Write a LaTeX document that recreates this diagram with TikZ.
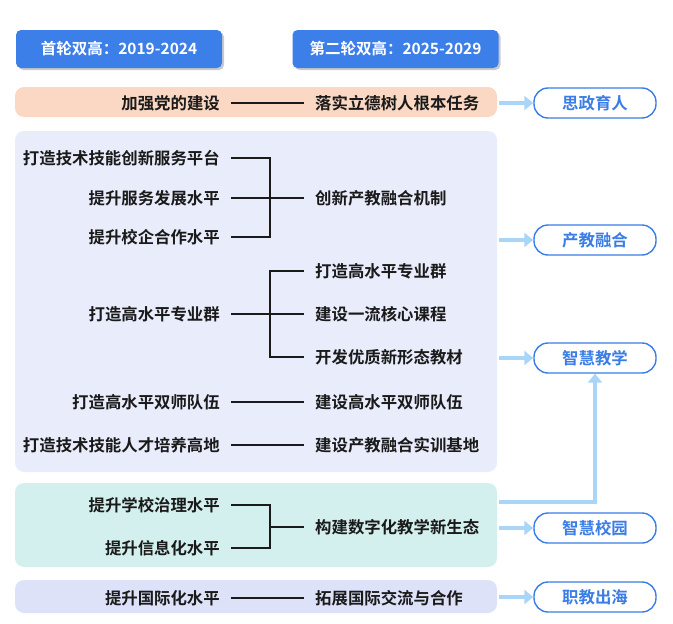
\documentclass[tikz,border=0pt]{standalone}
\usepackage{fontspec}
\setmainfont{Noto Sans CJK SC}[BoldFont={Noto Sans CJK SC Bold}]
\usetikzlibrary{arrows.meta,shadows}
\definecolor{hdrblue}{HTML}{3C7FE9}
\definecolor{pillblue}{HTML}{3A7DE6}
\definecolor{arrblue}{HTML}{A9D5F8}
\definecolor{peach}{HTML}{FAD8C4}
\definecolor{lav}{HTML}{E9ECFA}
\definecolor{teal}{HTML}{D3F0EE}
\definecolor{peri}{HTML}{DDE2F9}
\definecolor{txt}{HTML}{1A1A1A}
\tikzset{
  every node/.style={font=\fontsize{16.4}{19}\selectfont\bfseries, text=txt, inner sep=0pt},
  lefttxt/.style={anchor=east},
  righttxt/.style={anchor=west},
  hdr/.style={fill=hdrblue, rounded corners=5pt, minimum width=206pt, minimum height=38pt, text=white,
    font=\fontsize{15.5}{18}\selectfont\bfseries,
    drop shadow={shadow xshift=2pt, shadow yshift=-2pt, fill=black!35, opacity=0.6}},
  band/.style={rounded corners=9pt},
  pill/.style={draw=pillblue, line width=1.4pt, rounded corners=14pt, minimum width=122pt, minimum height=30pt, text=pillblue, fill=white},
  conn/.style={line width=1.2pt, draw=txt},
  bigarr/.style={draw=arrblue, line width=3.5pt, -{Triangle[length=9pt,width=14pt]}}
}
\begin{document}
\begin{tikzpicture}[x=1pt,y=-1pt]
\useasboundingbox (0,0) rectangle (673,624);
% header boxes
\node[hdr] (h1) at (119,49) {首轮双高：2019-2024};
\node[hdr] (h2) at (395.5,49) {第二轮双高：2025-2029};
% background bands
\fill[peach, band] (15,87) rectangle (497,117);
\fill[lav, band] (15,131) rectangle (497,472);
\fill[teal, band] (15,483) rectangle (497,567);
\fill[peri, band] (15,580) rectangle (497,613);
\coordinate (b1) at (497,103);
\coordinate (b2) at (497,240);
\coordinate (b3) at (497,358);
\coordinate (b4) at (497,502);
\coordinate (b5) at (497,528);
\coordinate (b6) at (497,597);
% pills
\node[pill] (p1) at (595,103) {思政育人};
\node[pill] (p2) at (595,240) {产教融合};
\node[pill] (p3) at (595,358) {智慧教学};
\node[pill] (p4) at (595,528) {智慧校园};
\node[pill] (p5) at (595,597) {职教出海};
% row 1
\node[lefttxt] (a1) at (220,103) {加强党的建设};
\node[righttxt] (c1) at (315,103) {落实立德树人根本任务};
\draw[conn] ([xshift=11pt]a1.east) -- ([xshift=-11pt]c1.west);
% group 2
\node[lefttxt] (a2) at (220,158) {打造技术技能创新服务平台};
\node[lefttxt] (a3) at (220,198) {提升服务发展水平};
\node[lefttxt] (a4) at (220,237) {提升校企合作水平};
\node[righttxt] (c2) at (315,198) {创新产教融合机制};
\draw[conn] ([xshift=11pt]a2.east) -| (270,198) |- ([xshift=11pt]a4.east);
\draw[conn] ([xshift=11pt]a3.east) -- ([xshift=-11pt]c2.west);
% group 3
\node[lefttxt] (a5) at (220,314) {打造高水平专业群};
\node[righttxt] (c3) at (315,271) {打造高水平专业群};
\node[righttxt] (c4) at (315,314) {建设一流核心课程};
\node[righttxt] (c5) at (315,357) {开发优质新形态教材};
\draw[conn] ([xshift=-11pt]c3.west) -| (270,314) |- ([xshift=-11pt]c5.west);
\draw[conn] ([xshift=11pt]a5.east) -- ([xshift=-11pt]c4.west);
% rows
\node[lefttxt] (a6) at (220,402) {打造高水平双师队伍};
\node[righttxt] (c6) at (315,402) {建设高水平双师队伍};
\draw[conn] ([xshift=11pt]a6.east) -- ([xshift=-11pt]c6.west);
\node[lefttxt] (a7) at (220,445) {打造技术技能人才培养高地};
\node[righttxt] (c7) at (315,445) {建设产教融合实训基地};
\draw[conn] ([xshift=11pt]a7.east) -- ([xshift=-11pt]c7.west);
% teal group
\node[lefttxt] (a8) at (220,505) {提升学校治理水平};
\node[lefttxt] (a9) at (220,548) {提升信息化水平};
\node[righttxt] (c8) at (315,527) {构建数字化教学新生态};
\draw[conn] ([xshift=11pt]a8.east) -| (270,527) |- ([xshift=11pt]a9.east);
\draw[conn] (270,527) -- ([xshift=-11pt]c8.west);
% bottom row
\node[lefttxt] (a10) at (220,598) {提升国际化水平};
\node[righttxt] (c10) at (315,598) {拓展国际交流与合作};
\draw[conn] ([xshift=11pt]a10.east) -- ([xshift=-11pt]c10.west);
% arrows
\draw[bigarr] ([xshift=2pt]b1) -- (p1.west);
\draw[bigarr] ([xshift=2pt]b2) -- (p2.west);
\draw[bigarr] ([xshift=2pt]b3) -- (p3.west);
\draw[bigarr] ([xshift=2pt]b5) -- (p4.west);
\draw[bigarr] ([xshift=2pt]b6) -- (p5.west);
\draw[bigarr] ([xshift=2pt]b4) -| (p3.south);
\end{tikzpicture}
\end{document}
